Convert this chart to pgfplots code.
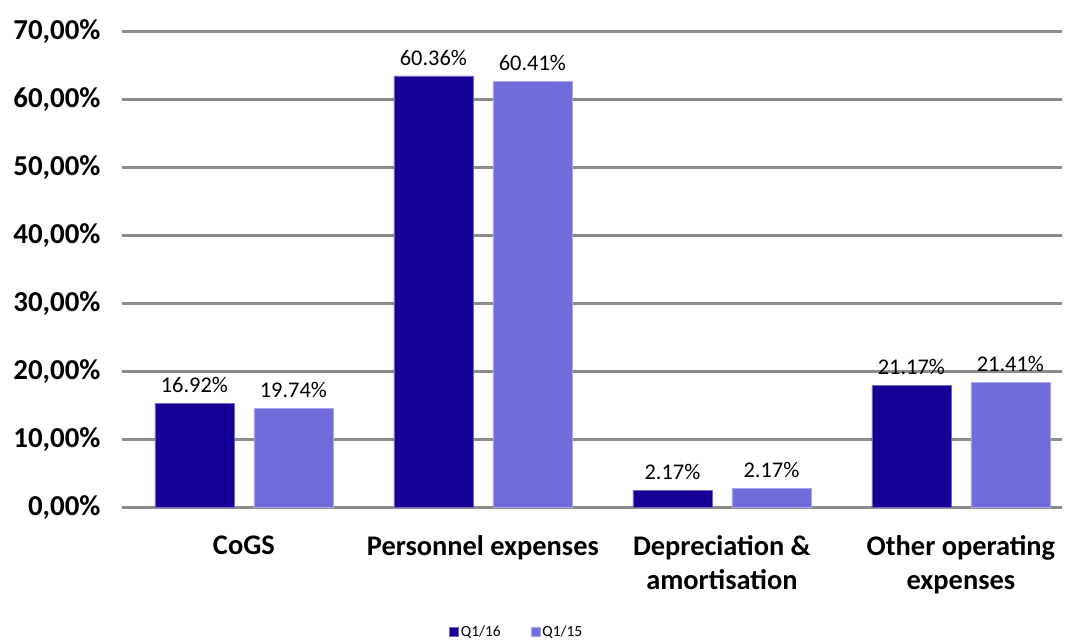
\documentclass[border=0pt]{standalone}
\usepackage{fontspec}
\setmainfont{Carlito}
\usepackage{pgfplots}
\pgfplotsset{compat=1.18}
\definecolor{dark}{RGB}{21,0,150}
\definecolor{light}{RGB}{112,108,218}
\definecolor{gridc}{RGB}{140,140,140}
\begin{document}
\begin{tikzpicture}
\useasboundingbox (-122bp,-134bp) rectangle (947bp,507bp);
\begin{axis}[
  at={(0,0)}, anchor=south west,
  scale only axis, width=940bp, height=476bp,
  xmin=-0.510, xmax=3.423, ymin=0, ymax=70,
  axis line style={draw=none},
  ymajorgrids, major grid style={gridc, line width=3bp},
  ytick={0,10,...,70},
  yticklabels={{0,00\%},{10,00\%},{20,00\%},{30,00\%},{40,00\%},{50,00\%},{60,00\%},{70,00\%}},
  yticklabel style={font=\fontsize{29}{30}\selectfont\bfseries, xshift=-18bp},
  xtick={0,1,2,3},
  xticklabels={CoGS,Personnel expenses,{Depreciation \&\\amortisation},{Other operating\\expenses}},
  xticklabel style={font=\fontsize{28.5}{34}\selectfont\bfseries, align=center, anchor=north, yshift=-25bp},
  major tick length=0pt,
  ybar=20bp, bar width=79bp,
  point meta=explicit symbolic,
  nodes near coords,
  nodes near coords style={font=\fontsize{22.5}{24}\selectfont, anchor=south, yshift=7bp},
  legend style={at={(0.42,-0.263)}, anchor=center, draw=none, legend columns=2,
    font=\fontsize{15.5}{17}\selectfont,
    /tikz/every even column/.append style={column sep=28bp}},
  legend image code/.code={\fill[#1] (0bp,-4.5bp) rectangle (9bp,4.5bp);},
  clip=false,
]
\addplot[fill=dark, draw=dark!60!white, line width=0.6bp] coordinates {
  (0,15.19) [16.92\%]
  (1,63.40) [60.36\%]
  (2,2.48) [2.17\%]
  (3,17.87) [21.17\%]
};
\addplot[fill=light, draw=light!60!white, line width=0.6bp] coordinates {
  (0,14.46) [19.74\%]
  (1,62.60) [60.41\%]
  (2,2.72) [2.17\%]
  (3,18.35) [21.41\%]
};
\legend{Q1/16, Q1/15}
\end{axis}
\end{tikzpicture}
\end{document}
